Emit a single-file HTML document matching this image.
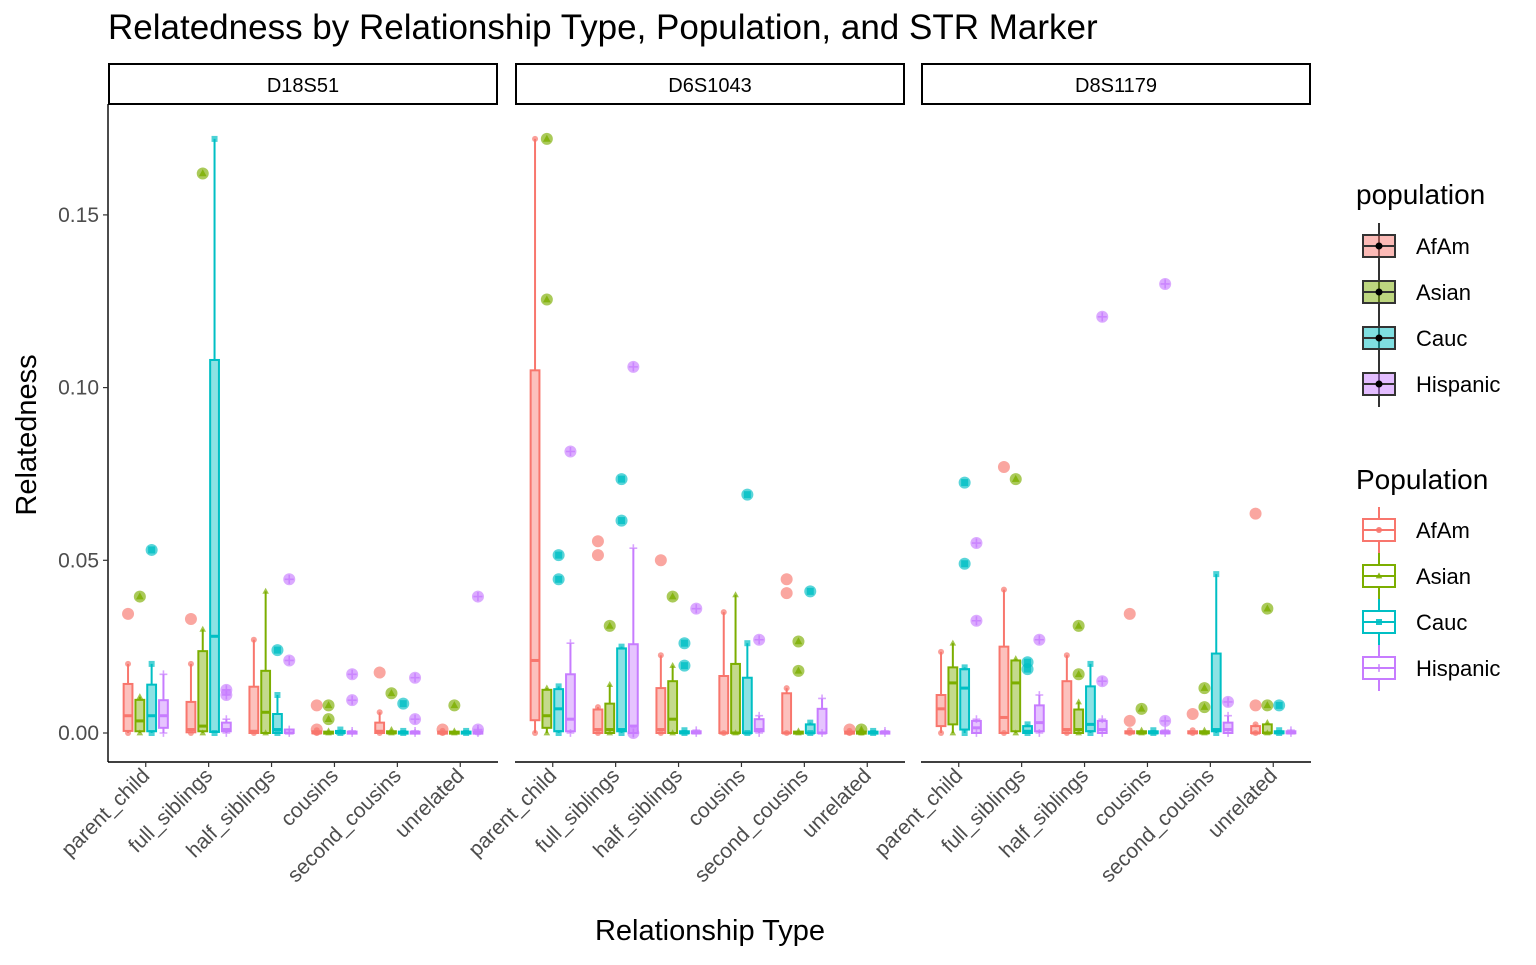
<!DOCTYPE html>
<html><head><meta charset="utf-8"><style>
body{margin:0;background:#fff;}
svg text{font-family:"Liberation Sans",Arial,sans-serif;}
</style></head><body>
<svg id="chart" width="1536" height="960" xmlns="http://www.w3.org/2000/svg">
<text x="108" y="39" font-size="35" fill="#000">Relatedness by Relationship Type, Population, and STR Marker</text>
<text x="710" y="940" font-size="29" text-anchor="middle">Relationship Type</text>
<text transform="translate(36,435) rotate(-90)" font-size="29" text-anchor="middle">Relatedness</text>
<g id="plot"></g>
<g id="legend"></g>
</svg>
<script>
const markers = ["D18S51","D6S1043","D8S1179"];
const categories = ["parent_child","full_siblings","half_siblings","cousins","second_cousins","unrelated"];
const populations = ["AfAm","Asian","Cauc","Hispanic"];
const yTicks = [0,0.05,0.10,0.15];
const yTickLabels = ["0.00","0.05","0.10","0.15"];
// box stats [lo,q1,med,q3,hi] indexed [category][population]
const boxStatsD18S51 = [
 [[0,0.0006,0.005,0.0142,0.020],[0,0.0005,0.0035,0.0096,0.0105],[0,0.0005,0.005,0.014,0.020],[0,0.0015,0.005,0.0095,0.017]],
 [[0,0.0002,0.001,0.009,0.020],[0,0.0005,0.002,0.0237,0.030],[0,0.0003,0.028,0.108,0.172],[0,0.0005,0.001,0.003,0.004]],
 [[0,0,0.0005,0.0134,0.027],[0,0,0.006,0.018,0.041],[0,0,0.001,0.0055,0.011],[0,0,0,0.001,0.001]],
 [[0,0,0,0.0005,0.0008],[0,0,0,0.0004,0.0006],[0,0,0,0.0006,0.001],[0,0,0,0.0004,0.0006]],
 [[0,0,0.0005,0.003,0.006],[0,0,0,0.0005,0.001],[0,0,0,0.0004,0.0006],[0,0,0,0.0004,0.0006]],
 [[0,0,0,0.0004,0.0006],[0,0,0,0.0004,0.0006],[0,0,0,0.0004,0.0006],[0,0,0,0.0004,0.0006]]
];
const boxStatsD6S1043 = [
 [[0,0.0037,0.021,0.105,0.172],[0,0.0015,0.005,0.0125,0.013],[0,0.0005,0.007,0.0127,0.0135],[0,0.0005,0.004,0.017,0.026]],
 [[0,0,0.001,0.0068,0.0075],[0,0,0.001,0.0085,0.014],[0,0.0005,0.001,0.0245,0.025],[0,0,0.002,0.0257,0.0535]],
 [[0,0,0.001,0.013,0.0225],[0,0,0.004,0.015,0.0195],[0,0,0,0.0005,0.0008],[0,0,0,0.0005,0.0008]],
 [[0,0,0,0.0165,0.035],[0,0,0,0.020,0.040],[0,0,0,0.016,0.026],[0,0.0005,0.001,0.004,0.005]],
 [[0,0,0,0.0115,0.013],[0,0,0,0.0004,0.0006],[0,0,0,0.0025,0.003],[0,0,0,0.007,0.010]],
 [[0,0,0,0.0004,0.0006],[0,0,0,0.0004,0.0006],[0,0,0,0.0004,0.0006],[0,0,0,0.0004,0.0006]]
];
const boxStatsD8S1179 = [
 [[0,0.002,0.007,0.011,0.0235],[0,0.0025,0.0145,0.019,0.026],[0,0.001,0.013,0.0185,0.019],[0,0,0.0015,0.0035,0.004]],
 [[0,0,0.0045,0.025,0.0415],[0,0.0005,0.0145,0.021,0.0215],[0,0,0.0005,0.002,0.0025],[0,0.0005,0.003,0.008,0.011]],
 [[0,0,0.001,0.015,0.0225],[0,0,0.001,0.0068,0.009],[0,0.0005,0.0025,0.0135,0.020],[0,0,0.001,0.0035,0.004]],
 [[0,0,0,0.0005,0.0008],[0,0,0,0.0005,0.0008],[0,0,0,0.0005,0.0008],[0,0,0,0.0005,0.0008]],
 [[0,0,0,0.0005,0.0008],[0,0,0,0.0005,0.0008],[0,0.0005,0.001,0.023,0.046],[0,0,0.001,0.003,0.005]],
 [[0,0,0,0.002,0.0025],[0,0,0,0.0025,0.003],[0,0,0,0.0005,0.0008],[0,0,0,0.0005,0.0008]]
];
const outlierMarker = [0,0,0,0,0,0,0,0,0,0,0,0,0,0,0,0,0,0,0,0,0,0,0,0,0, 1,1,1,1,1,1,1,1,1,1,1,1,1,1,1,1,1,1,1,1,1,1,1,1,1,1, 2,2,2,2,2,2,2,2,2,2,2,2,2,2,2,2,2,2,2,2,2,2,2,2,2,2,2];
const outlierCategory = [0,0,0,1,1,1,1,2,2,2,3,3,3,3,3,3,4,4,4,4,4,5,5,5,5, 0,0,0,0,0,1,1,1,1,1,1,1,2,2,2,2,2,3,3,4,4,4,4,4,5,5, 0,0,0,0,1,1,1,1,1,2,2,2,2,3,3,3,3,3,4,4,4,4,5,5,5,5,5];
const outlierPop = [0,1,2,0,1,3,3,2,3,3,0,0,1,1,3,3,0,1,2,3,3,0,1,3,3, 1,1,2,2,3,0,0,1,2,2,3,3,0,1,2,2,3,2,3,0,0,1,1,2,0,1, 2,2,3,3,0,1,2,2,3,1,1,3,3,0,0,1,3,3,0,1,1,3,0,0,1,1,2];
const outlierValue = [0.0345,0.0395,0.053,0.033,0.162,0.0125,0.011,0.024,0.0445,0.021,0.008,0.001,0.008,0.004,0.017,0.0095,0.0175,0.0115,0.0085,0.016,0.004,0.001,0.008,0.0395,0.001,
 0.172,0.1255,0.0515,0.0445,0.0815,0.0555,0.0515,0.031,0.0735,0.0615,0.106,0.0,0.050,0.0395,0.026,0.0195,0.036,0.069,0.027,0.0445,0.0405,0.0265,0.018,0.041,0.001,0.001,
 0.0725,0.049,0.055,0.0325,0.077,0.0735,0.0205,0.0185,0.027,0.031,0.017,0.1205,0.015,0.0345,0.0035,0.007,0.13,0.0035,0.0055,0.013,0.0075,0.009,0.0635,0.008,0.036,0.008,0.008];
const allStats=[boxStatsD18S51,boxStatsD6S1043,boxStatsD8S1179];
const colors=["#F8766D","#7CAE00","#00BFC4","#C77CFF"];
const NS="http://www.w3.org/2000/svg";
const plot=document.getElementById('plot');
const panelX=[108,515,921], panelW=390, plotTop=104, plotBottom=762;
const y0=733, pxPerUnit=3454;
function yS(v){return y0-v*pxPerUnit;}
function xCat(p,c){return panelX[p]+panelW*(c+0.6)/6.2;}
const bw=11.8;
function xBox(p,c,k){return xCat(p,c)+(k-1.5)*bw;}
function mk(tag,attrs,parent){const e=document.createElementNS(NS,tag);for(const k in attrs)e.setAttribute(k,attrs[k]);(parent||plot).appendChild(e);return e;}
function shape(k,x,y,s,col,op,parent){
 let e;
 if(k===0)e=mk('circle',{cx:x,cy:y,r:s,fill:col,'fill-opacity':op},parent);
 else if(k===1)e=mk('polygon',{points:`${x},${y-s*1.2} ${x-s*1.1},${y+s*0.8} ${x+s*1.1},${y+s*0.8}`,fill:col,'fill-opacity':op},parent);
 else if(k===2)e=mk('rect',{x:x-s,y:y-s,width:2*s,height:2*s,fill:col,'fill-opacity':op},parent);
 else e=mk('path',{d:`M${x-s*1.3},${y}H${x+s*1.3}M${x},${y-s*1.3}V${y+s*1.3}`,stroke:col,'stroke-width':1.6,'stroke-opacity':op,fill:'none'},parent);
 return e;
}
const yAxis=mk('line',{x1:108,y1:plotTop,x2:108,y2:plotBottom,stroke:'#000','stroke-width':1.4});


yTicks.forEach((t,i)=>{
 const tl=mk('line',{x1:103,x2:108,y1:yS(t),y2:yS(t),stroke:'#333','stroke-width':1.2});
 
 
 const tx=mk('text',{x:99,y:yS(t)+7,'font-size':21,fill:'#4d4d4d','text-anchor':'end'});tx.textContent=yTickLabels[i];
 
 
});
markers.forEach((m,p)=>{
 const g=mk('g',{});
 
 
 const st=mk('rect',{x:panelX[p]+1,y:64,width:panelW-2,height:40,fill:'#fff',stroke:'#000','stroke-width':2},g);
 
 
 const stt=mk('text',{x:panelX[p]+panelW/2,y:92,'font-size':20,'text-anchor':'middle'},g);stt.textContent=m;
 
 
 const xa=mk('line',{x1:panelX[p],x2:panelX[p]+panelW,y1:plotBottom,y2:plotBottom,stroke:'#000','stroke-width':1.4},g);
 
 
 categories.forEach((c,ci)=>{
  const x=xCat(p,ci);
  const tk=mk('line',{x1:x,x2:x,y1:plotBottom,y2:plotBottom+5,stroke:'#333','stroke-width':1.2},g);
  
  
  const tl=mk('text',{transform:`translate(${x+5},${plotBottom+15}) rotate(-45)`,'font-size':21,fill:'#4d4d4d','text-anchor':'end'},g);
  tl.textContent=c;
  
  
  populations.forEach((pop,k)=>{
   const s=allStats[p][ci][k];const col=colors[k];const bx=xBox(p,ci,k);
   const bg=mk('g',{},g);
   
   
   mk('line',{x1:bx,x2:bx,y1:yS(s[4]),y2:yS(s[3]),stroke:col,'stroke-width':2},bg);
   mk('line',{x1:bx,x2:bx,y1:yS(s[1]),y2:yS(s[0]),stroke:col,'stroke-width':2},bg);
   const hh=Math.max(yS(s[1])-yS(s[3]),2);
   mk('rect',{x:bx-bw/2+1.5,y:yS(s[3]),width:bw-3,height:hh,fill:col,'fill-opacity':0.45,stroke:col,'stroke-width':2},bg);
   mk('line',{x1:bx-bw/2+1.5,x2:bx+bw/2-1.5,y1:yS(s[2]),y2:yS(s[2]),stroke:col,'stroke-width':3},bg);
   shape(k,bx,yS(s[4]),3,col,0.7,bg);
   shape(k,bx,yS(s[0]),3,col,0.7,bg);
  });
 });
});
outlierValue.forEach((v,i)=>{
 const p=outlierMarker[i],c=outlierCategory[i],k=outlierPop[i];
 const x=xBox(p,c,k),y=yS(v);
 const og=mk('g',{});
 
 
 mk('circle',{cx:x,cy:y,r:6,fill:colors[k],'fill-opacity':0.65},og);
 if(k>0)shape(k,x,y,3.5,colors[k],0.8,og);
});
const lg=document.getElementById('legend');
function ltext(x,y,s,sz,name){const t=mk('text',{x:x,y:y,'font-size':sz},lg);t.textContent=s;
 
 
 return t;}
ltext(1356,204,'population',28,'legend-title-fill');
ltext(1356,489,'Population',28,'legend-title-colour');
populations.forEach((pop,k)=>{
 const y1=246+46*k;
 const a=mk('g',{},lg);
 
 
 mk('line',{x1:1379,x2:1379,y1:y1-23,y2:y1+23,stroke:'#333','stroke-width':2},a);
 mk('rect',{x:1363,y:y1-11,width:32,height:22,fill:colors[k],'fill-opacity':0.5,stroke:'#333','stroke-width':2},a);
 mk('line',{x1:1363,x2:1395,y1:y1,y2:y1,stroke:'#333','stroke-width':2},a);
 mk('circle',{cx:1379,cy:y1,r:3.5,fill:'#000'},a);
 ltext(1416,y1+8,pop,22,'legend-label');
 const y2=530+46*k;
 const b=mk('g',{},lg);
 
 
 mk('line',{x1:1379,x2:1379,y1:y2-23,y2:y2+23,stroke:colors[k],'stroke-width':2},b);
 mk('rect',{x:1363,y:y2-11,width:32,height:22,fill:'#fff',stroke:colors[k],'stroke-width':2},b);
 mk('line',{x1:1363,x2:1395,y1:y2,y2:y2,stroke:colors[k],'stroke-width':2},b);
 shape(k,1379,y2,3,colors[k],0.9,b);
 ltext(1416,y2+8,pop,22,'legend-label');
});
</script>
</body></html>
